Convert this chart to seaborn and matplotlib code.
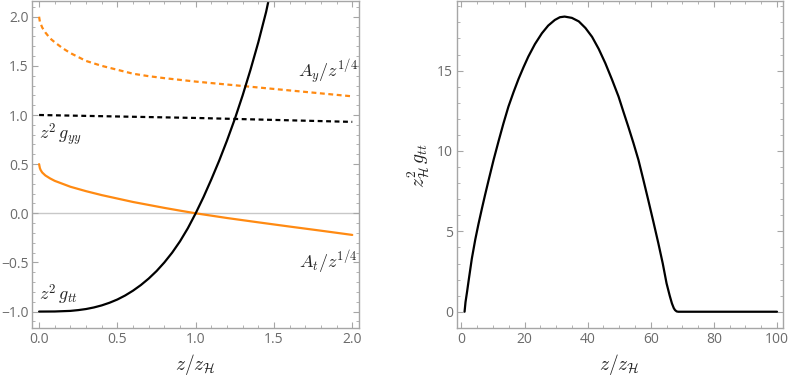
import numpy as np
import pandas as pd
import matplotlib
matplotlib.use('Agg')
import matplotlib.pyplot as plt
import seaborn as sns
from matplotlib.ticker import MultipleLocator, FormatStrFormatter, FuncFormatter

sns.set_style('ticks')
plt.rcParams['font.family'] = ['Open Sans', 'DejaVu Sans']
plt.rcParams['mathtext.fontset'] = 'cm'

ORANGE = '#ff8a12'
FRAME = '#a6a6a6'
LABEL = '#6b6b6b'

# left panel: values
z_gtt = [0.0, 0.1, 0.2, 0.25, 0.3, 0.35, 0.4, 0.45, 0.5, 0.55, 0.6, 0.65, 0.7, 0.75, 0.8,
         0.85, 0.9, 0.95, 1.0, 1.05, 1.1, 1.15, 1.2, 1.25, 1.3, 1.35, 1.4, 1.45, 1.47]
gtt = [-1.0, -0.999, -0.993, -0.985, -0.974, -0.958, -0.937, -0.91, -0.877, -0.836, -0.787,
       -0.73, -0.664, -0.588, -0.5, -0.4, -0.285, -0.152, 0.0, 0.165, 0.345, 0.535, 0.74,
       0.96, 1.2, 1.46, 1.74, 2.05, 2.2]

z_gyy = [0.0, 0.5, 1.0, 1.5, 2.0]
gyy = [1.0, 0.985, 0.97, 0.95, 0.93]

z_Ay = [0.0, 0.005, 0.01, 0.02, 0.04, 0.07, 0.1, 0.15, 0.2, 0.3, 0.4, 0.5, 0.6, 0.7, 0.8,
        1.0, 1.2, 1.4, 1.6, 1.8, 2.0]
Ay = [2.0, 1.95, 1.93, 1.89, 1.84, 1.78, 1.74, 1.68, 1.63, 1.55, 1.50, 1.46, 1.42, 1.395,
      1.375, 1.34, 1.31, 1.28, 1.25, 1.22, 1.19]

z_At = [0.0, 0.005, 0.01, 0.02, 0.04, 0.07, 0.1, 0.15, 0.2, 0.3, 0.4, 0.5, 0.6, 0.7, 0.8,
        0.9, 1.0, 1.2, 1.4, 1.6, 1.8, 2.0]
At = [0.5, 0.46, 0.44, 0.415, 0.385, 0.355, 0.33, 0.30, 0.27, 0.225, 0.185, 0.15, 0.115,
      0.085, 0.055, 0.027, 0.0, -0.048, -0.092, -0.135, -0.177, -0.22]

# right panel
z_big = [1.0, 1.3, 1.8, 2.3, 3.3, 4.4, 5.4, 6.5, 7.5, 8.6, 10.2, 11.8, 13.3, 14.9, 16.5,
         18.1, 19.7, 21.2, 23.3, 25.5, 27.5, 29.6, 31.2, 32.7, 35.0, 37.2, 39.3, 41.4, 43.5,
         45.6, 47.7, 49.8, 51.3, 52.9, 54.5, 56.1, 57.6, 59.2, 60.8, 62.4, 63.8, 65.0, 66.0,
         66.7, 67.3, 67.7, 68.2, 68.7, 80.0, 100.0]
gtt_big = [0.0, 0.6, 1.25, 1.95, 3.3, 4.5, 5.45, 6.42, 7.27, 8.17, 9.45, 10.63, 11.7, 12.76,
           13.65, 14.48, 15.22, 15.87, 16.65, 17.32, 17.8, 18.15, 18.32, 18.36, 18.28, 18.06,
           17.65, 17.1, 16.35, 15.46, 14.45, 13.38, 12.46, 11.5, 10.5, 9.44, 8.25, 6.95,
           5.62, 4.26, 3.0, 1.77, 1.0, 0.52, 0.22, 0.1, 0.02, 0.0, 0.0, 0.0]


def style_frame(ax):
    for sp in ax.spines.values():
        sp.set_color(FRAME)
        sp.set_linewidth(1.0)
    ax.tick_params(which='both', direction='in', top=True, right=True, color=FRAME,
                   labelcolor=LABEL, labelsize=10, pad=2.5)
    ax.tick_params(which='major', length=4, width=0.8)
    ax.tick_params(which='minor', length=2, width=0.6)


fig = plt.figure(figsize=(7.89, 3.78), dpi=100)
ax1 = fig.add_axes([0.041, 0.1315, 0.4144, 0.8646])
ax2 = fig.add_axes([0.5788, 0.1315, 0.4136, 0.8646])

ax1.axhline(0, color='#c8c8c8', lw=1.0, zorder=0)
sns.lineplot(x=z_Ay, y=Ay, ax=ax1, color=ORANGE, lw=1.6, linestyle=(0, (2.2, 1.6)))
sns.lineplot(x=z_gyy, y=gyy, ax=ax1, color='black', lw=1.6, linestyle=(0, (2.2, 1.6)))
sns.lineplot(x=z_At, y=At, ax=ax1, color=ORANGE, lw=1.6)
sns.lineplot(x=z_gtt, y=gtt, ax=ax1, color='black', lw=1.6)

ax1.set_xlim(-0.043, 2.045)
ax1.set_ylim(-1.17, 2.155)
ax1.xaxis.set_major_locator(MultipleLocator(0.5))
ax1.xaxis.set_minor_locator(MultipleLocator(0.1))
ax1.yaxis.set_major_locator(MultipleLocator(0.5))
ax1.yaxis.set_minor_locator(MultipleLocator(0.1))
ax1.xaxis.set_major_formatter(FormatStrFormatter('%.1f'))
ax1.yaxis.set_major_formatter(FuncFormatter(
    lambda v, p: ('\u2212%.1f' % -v) if v < -1e-9 else '%.1f' % abs(v)))
style_frame(ax1)
ax1.set_xlabel(r'$z/z_{\mathcal{H}}$', fontsize=14, color='#222222', labelpad=4)

ax1.text(2.035, 1.43, r'$A_y/z^{1/4}$', ha='right', va='center', fontsize=13)
ax1.text(0.0, 0.8, r'$z^2\, g_{yy}$', ha='left', va='center', fontsize=13)
ax1.text(2.035, -0.5, r'$A_t/z^{1/4}$', ha='right', va='center', fontsize=13)
ax1.text(0.0, -0.83, r'$z^2\, g_{tt}$', ha='left', va='center', fontsize=13)

sns.lineplot(x=z_big, y=gtt_big, ax=ax2, color='black', lw=1.6)
ax2.set_xlim(-1.5, 101.9)
ax2.set_ylim(-1.03, 19.3)
ax2.xaxis.set_major_locator(MultipleLocator(20))
ax2.xaxis.set_minor_locator(MultipleLocator(5))
ax2.yaxis.set_major_locator(MultipleLocator(5))
ax2.yaxis.set_minor_locator(MultipleLocator(1))
style_frame(ax2)
ax2.set_xlabel(r'$z/z_{\mathcal{H}}$', fontsize=14, color='#222222', labelpad=4)
ax2.set_ylabel(r'$z_{\mathcal{H}}^2\, g_{tt}$', fontsize=14, color='#222222', labelpad=4)

fig.savefig('out.png', dpi=100)
